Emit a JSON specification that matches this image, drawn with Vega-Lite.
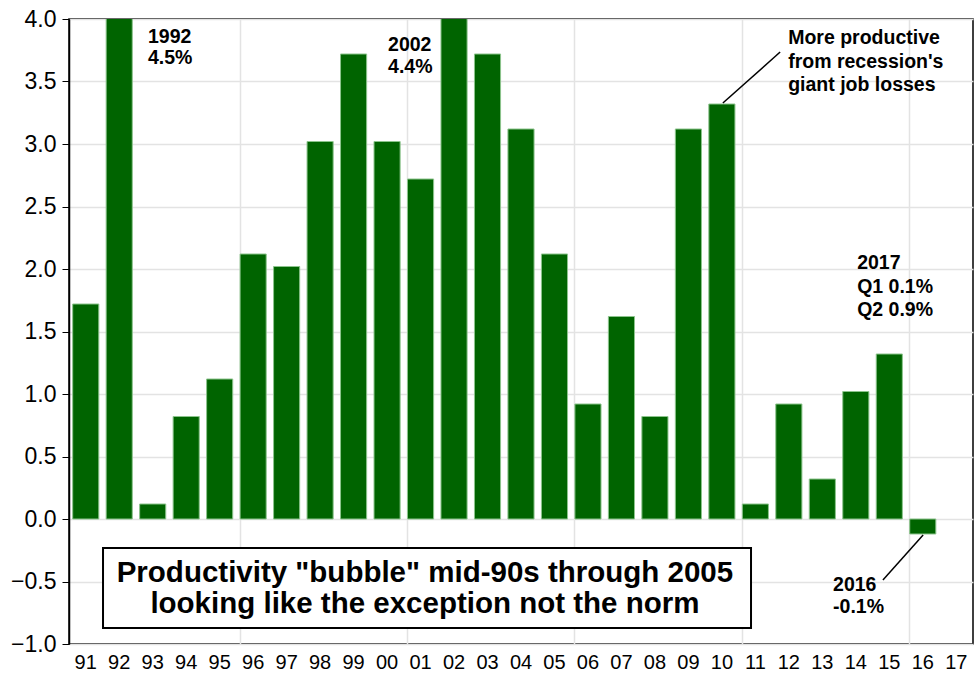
{
  "$schema": "https://vega.github.io/schema/vega-lite/v6.json",
  "width": 904,
  "height": 625,
  "autosize": "none",
  "padding": {"left": 69, "top": 19, "right": 6, "bottom": 30},
  "background": "white",
  "config": {
    "font": "Liberation Sans",
    "view": {"stroke": "black", "strokeWidth": 1.5},
    "axis": {"labelFont": "Liberation Sans", "labelColor": "black", "domainColor": "black", "tickColor": "black", "gridColor": "#e3e3e3", "gridWidth": 1.5}
  },
  "datasets": {
    "bars": [
      {"yr": "91", "v": 1.72}, {"yr": "92", "v": 4.5}, {"yr": "93", "v": 0.12}, {"yr": "94", "v": 0.82},
      {"yr": "95", "v": 1.12}, {"yr": "96", "v": 2.12}, {"yr": "97", "v": 2.02}, {"yr": "98", "v": 3.02},
      {"yr": "99", "v": 3.72}, {"yr": "00", "v": 3.02}, {"yr": "01", "v": 2.72}, {"yr": "02", "v": 4.4},
      {"yr": "03", "v": 3.72}, {"yr": "04", "v": 3.12}, {"yr": "05", "v": 2.12}, {"yr": "06", "v": 0.92},
      {"yr": "07", "v": 1.62}, {"yr": "08", "v": 0.82}, {"yr": "09", "v": 3.12}, {"yr": "10", "v": 3.32},
      {"yr": "11", "v": 0.12}, {"yr": "12", "v": 0.92}, {"yr": "13", "v": 0.32}, {"yr": "14", "v": 1.02},
      {"yr": "15", "v": 1.32}, {"yr": "16", "v": -0.12}
    ],
    "notes": [
      {"ax": 2.36, "ay": 3.856, "t": "1992"},
      {"ax": 2.36, "ay": 3.688, "t": "4.5%"},
      {"ax": 9.53, "ay": 3.792, "t": "2002"},
      {"ax": 9.53, "ay": 3.616, "t": "4.4%"},
      {"ax": 21.48, "ay": 3.848, "t": "More productive"},
      {"ax": 21.48, "ay": 3.656, "t": "from recession's"},
      {"ax": 21.48, "ay": 3.472, "t": "giant job losses"},
      {"ax": 23.54, "ay": 2.048, "t": "2017"},
      {"ax": 23.54, "ay": 1.856, "t": "Q1 0.1%"},
      {"ax": 23.54, "ay": 1.672, "t": "Q2 0.9%"},
      {"ax": 22.82, "ay": -0.528, "t": "2016"},
      {"ax": 22.82, "ay": -0.704, "t": "-0.1%"}
    ],
    "lines": [
      {"x1": 19.53, "y1": 3.328, "x2": 21.24, "y2": 3.736},
      {"x1": 24.31, "y1": -0.488, "x2": 25.51, "y2": -0.128}
    ],
    "box": [{"x1": 1.016, "x2": 20.37, "y1": -0.232, "y2": -0.872}],
    "boxtext": [
      {"ax": 10.63, "ay": -0.432, "t": "Productivity \"bubble\" mid-90s through 2005"},
      {"ax": 10.63, "ay": -0.68, "t": "looking like the exception not the norm"}
    ]
  },
  "layer": [
    {
      "data": {"name": "bars"},
      "mark": {"type": "bar", "color": "#006400", "stroke": "#8cc48c", "strokeWidth": 1, "clip": true},
      "encoding": {
        "x": {
          "field": "yr", "type": "ordinal", "sort": null,
          "scale": {"domain": ["91","92","93","94","95","96","97","98","99","00","01","02","03","04","05","06","07","08","09","10","11","12","13","14","15","16","17"], "paddingInner": 0.22, "paddingOuter": 0.11},
          "axis": {
            "title": null, "labelAngle": 0, "labelFontSize": 20, "labelPadding": 8, "ticks": false,
            "domain": false, "grid": true, "bandPosition": 0,
            "gridOpacity": {"condition": {"test": "indexof(['96','01','06','11','16'], datum.value) >= 0", "value": 1}, "value": 0}
          }
        },
        "y": {
          "field": "v", "type": "quantitative",
          "scale": {"domain": [-1, 4], "nice": false, "zero": false},
          "axis": {"title": null, "values": [-1, -0.5, 0, 0.5, 1, 1.5, 2, 2.5, 3, 3.5, 4], "format": ".1f", "labelFontSize": 23, "labelFontWeight": "normal", "tickSize": 7, "labelPadding": 6, "grid": true, "domainWidth": 1.5}
        }
      }
    },
    {
      "data": {"name": "box"},
      "mark": {"type": "rect", "fill": "white", "stroke": "black", "strokeWidth": 2},
      "encoding": {
        "x": {"field": "x1", "type": "quantitative", "scale": {"domain": [0, 27], "nice": false, "zero": false}, "axis": null},
        "x2": {"field": "x2"},
        "y": {"field": "y1", "type": "quantitative", "scale": {"domain": [-1, 4], "nice": false, "zero": false}},
        "y2": {"field": "y2"}
      }
    },
    {
      "data": {"name": "boxtext"},
      "mark": {"type": "text", "font": "Liberation Sans", "fontWeight": "bold", "fontSize": 29.5, "align": "center", "baseline": "middle", "color": "black"},
      "encoding": {
        "x": {"field": "ax", "type": "quantitative", "scale": {"domain": [0, 27], "nice": false, "zero": false}, "axis": null},
        "y": {"field": "ay", "type": "quantitative", "scale": {"domain": [-1, 4], "nice": false, "zero": false}},
        "text": {"field": "t"}
      }
    },
    {
      "data": {"name": "notes"},
      "mark": {"type": "text", "font": "Liberation Sans", "fontWeight": "bold", "fontSize": 19.5, "align": "left", "baseline": "middle", "color": "black"},
      "encoding": {
        "x": {"field": "ax", "type": "quantitative", "scale": {"domain": [0, 27], "nice": false, "zero": false}, "axis": null},
        "y": {"field": "ay", "type": "quantitative", "scale": {"domain": [-1, 4], "nice": false, "zero": false}},
        "text": {"field": "t"}
      }
    },
    {
      "data": {"name": "lines"},
      "mark": {"type": "rule", "color": "black", "strokeWidth": 1.5},
      "encoding": {
        "x": {"field": "x1", "type": "quantitative", "scale": {"domain": [0, 27], "nice": false, "zero": false}, "axis": null},
        "x2": {"field": "x2"},
        "y": {"field": "y1", "type": "quantitative", "scale": {"domain": [-1, 4], "nice": false, "zero": false}},
        "y2": {"field": "y2"}
      }
    }
  ],
  "resolve": {"scale": {"x": "independent"}}
}
